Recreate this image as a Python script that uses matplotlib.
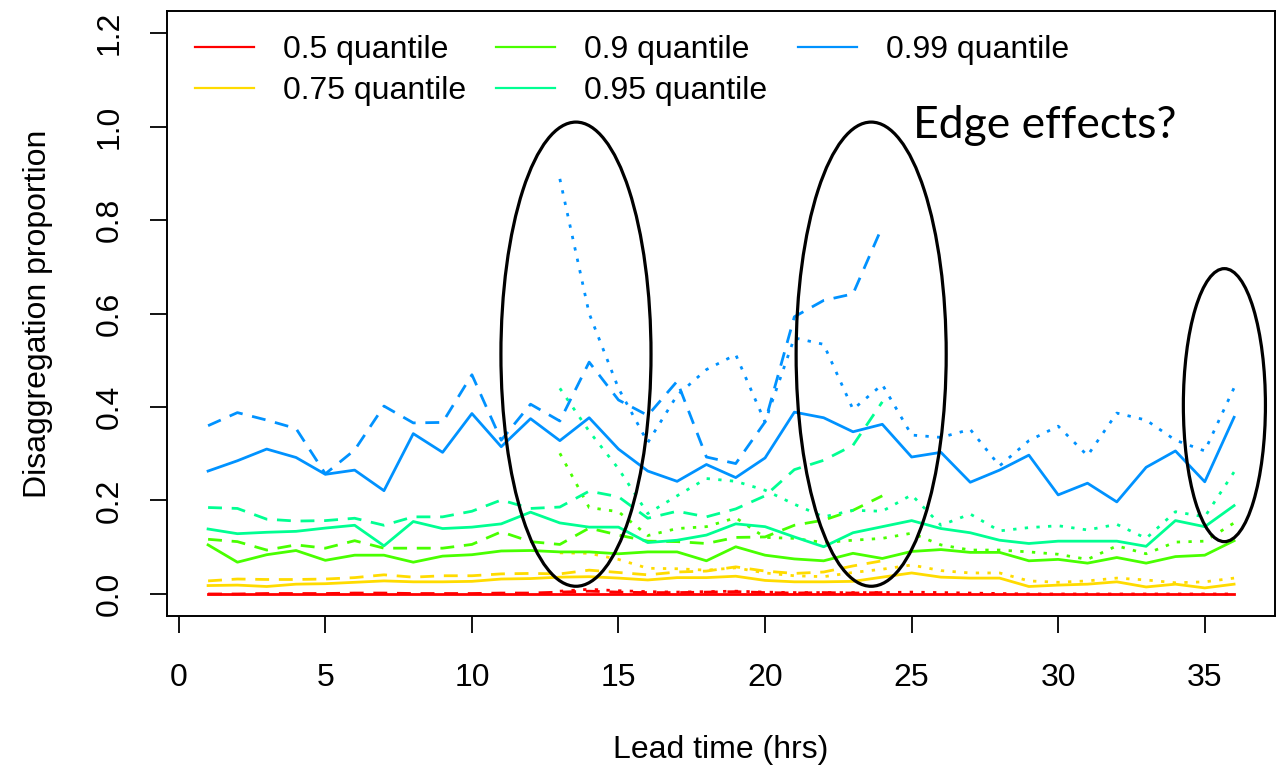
import matplotlib
matplotlib.use("Agg")
import matplotlib.pyplot as plt
import matplotlib.transforms as mtransforms
from matplotlib.patches import Ellipse

# ---------------- data ----------------
lead_full = [1, 2, 3, 4, 5, 6, 7, 8, 9, 10, 11, 12, 13, 14, 15, 16, 17, 18,
             19, 20, 21, 22, 23, 24, 25, 26, 27, 28, 29, 30, 31, 32, 33, 34, 35, 36]
lead_early = [1, 2, 3, 4, 5, 6, 7, 8, 9, 10, 11, 12, 13, 14, 15, 16, 17, 18,
              19, 20, 21, 22, 23, 24]
lead_late = [13, 14, 15, 16, 17, 18, 19, 20, 21, 22, 23, 24, 25, 26, 27, 28,
             29, 30, 31, 32, 33, 34, 35, 36]

quantile_labels = ["0.5 quantile", "0.75 quantile", "0.9 quantile",
                   "0.95 quantile", "0.99 quantile"]
quantile_colors = ["#FF0000", "#FFDB00", "#49FF00", "#00FF92", "#0092FF"]

# solid: full run (1-36)
q50_full = [0.000, 0.000, 0.000, 0.000, 0.000, 0.000, 0.000, 0.000, 0.000, 0.000, 0.000, 0.000,
            0.000, 0.000, 0.000, 0.000, 0.000, 0.000, 0.000, 0.000, 0.000, 0.000, 0.000, 0.000,
            0.000, 0.000, 0.000, 0.000, 0.000, 0.000, 0.000, 0.000, 0.000, 0.000, 0.000, 0.000]
q75_full = [0.018, 0.019, 0.016, 0.021, 0.022, 0.025, 0.028, 0.026, 0.026, 0.027, 0.032, 0.033,
            0.036, 0.037, 0.034, 0.030, 0.035, 0.035, 0.038, 0.029, 0.026, 0.026, 0.027, 0.036,
            0.045, 0.036, 0.034, 0.034, 0.016, 0.019, 0.021, 0.026, 0.015, 0.021, 0.013, 0.021]
q90_full = [0.105, 0.068, 0.084, 0.093, 0.072, 0.083, 0.083, 0.068, 0.081, 0.084, 0.092, 0.093,
            0.090, 0.090, 0.086, 0.090, 0.090, 0.071, 0.101, 0.083, 0.075, 0.071, 0.087, 0.076,
            0.091, 0.095, 0.089, 0.089, 0.071, 0.074, 0.066, 0.078, 0.066, 0.080, 0.083, 0.114]
q95_full = [0.139, 0.129, 0.132, 0.134, 0.141, 0.147, 0.103, 0.155, 0.140, 0.143, 0.150, 0.175,
            0.152, 0.143, 0.143, 0.110, 0.115, 0.126, 0.150, 0.144, 0.122, 0.101, 0.131, 0.144,
            0.157, 0.140, 0.131, 0.115, 0.108, 0.113, 0.113, 0.113, 0.102, 0.157, 0.144, 0.189]
q99_full = [0.263, 0.285, 0.310, 0.292, 0.256, 0.265, 0.221, 0.343, 0.303, 0.386, 0.315, 0.375,
            0.328, 0.377, 0.310, 0.263, 0.241, 0.277, 0.249, 0.291, 0.389, 0.377, 0.347, 0.363,
            0.293, 0.303, 0.239, 0.265, 0.297, 0.212, 0.237, 0.197, 0.271, 0.306, 0.240, 0.378]

# dashed: early run (1-24)
q50_early = [0.000, 0.000, 0.001, 0.001, 0.001, 0.002, 0.002, 0.001, 0.001, 0.001, 0.002, 0.002,
             0.004, 0.006, 0.004, 0.003, 0.003, 0.004, 0.005, 0.003, 0.002, 0.003, 0.002, 0.003]
q75_early = [0.028, 0.032, 0.031, 0.031, 0.032, 0.035, 0.041, 0.036, 0.039, 0.039, 0.043, 0.044,
             0.043, 0.051, 0.046, 0.041, 0.047, 0.049, 0.058, 0.049, 0.044, 0.047, 0.060, 0.071]
q90_early = [0.117, 0.112, 0.094, 0.105, 0.098, 0.114, 0.098, 0.098, 0.098, 0.106, 0.133, 0.112,
             0.106, 0.141, 0.126, 0.113, 0.112, 0.108, 0.121, 0.122, 0.147, 0.158, 0.179, 0.210]
q95_early = [0.185, 0.183, 0.160, 0.156, 0.157, 0.162, 0.147, 0.165, 0.165, 0.177, 0.201, 0.183,
             0.186, 0.220, 0.208, 0.162, 0.177, 0.165, 0.182, 0.210, 0.266, 0.286, 0.318, 0.411]
q99_early = [0.360, 0.388, 0.372, 0.354, 0.257, 0.308, 0.402, 0.366, 0.367, 0.469, 0.329, 0.406,
             0.370, 0.496, 0.415, 0.382, 0.455, 0.293, 0.279, 0.368, 0.593, 0.628, 0.642, 0.786]

# dotted: late run (13-36)
q50_late = [0.006, 0.010, 0.007, 0.005, 0.004, 0.005, 0.006, 0.004, 0.003, 0.003, 0.003, 0.003,
            0.004, 0.003, 0.002, 0.001, 0.000, 0.000, 0.000, 0.000, 0.000, 0.000, 0.000, 0.000]
q75_late = [0.088, 0.087, 0.074, 0.055, 0.054, 0.051, 0.056, 0.045, 0.039, 0.037, 0.046, 0.053,
            0.062, 0.050, 0.045, 0.045, 0.028, 0.025, 0.028, 0.034, 0.030, 0.024, 0.026, 0.034]
q90_late = [0.301, 0.185, 0.176, 0.125, 0.140, 0.144, 0.163, 0.121, 0.119, 0.110, 0.115, 0.119,
            0.130, 0.105, 0.094, 0.094, 0.090, 0.085, 0.074, 0.103, 0.086, 0.111, 0.113, 0.152]
q95_late = [0.440, 0.348, 0.268, 0.172, 0.210, 0.247, 0.241, 0.222, 0.192, 0.165, 0.179, 0.177,
            0.212, 0.147, 0.171, 0.135, 0.142, 0.146, 0.137, 0.149, 0.119, 0.176, 0.165, 0.261]
q99_late = [0.888, 0.600, 0.440, 0.324, 0.425, 0.480, 0.512, 0.368, 0.548, 0.534, 0.395, 0.448,
            0.340, 0.335, 0.352, 0.274, 0.328, 0.359, 0.296, 0.387, 0.372, 0.329, 0.306, 0.441]

x_ticks = [0, 5, 10, 15, 20, 25, 30, 35]
y_ticks = [0.0, 0.2, 0.4, 0.6, 0.8, 1.0, 1.2]
y_ticklabels = ["0.0", "0.2", "0.4", "0.6", "0.8", "1.0", "1.2"]

# ellipses (center x, center y, width, height) in data units
ellipse_cx = [13.55, 23.62, 35.67]
ellipse_cy = [0.513, 0.513, 0.404]
ellipse_w = [5.12, 5.12, 2.80]
ellipse_h = [0.993, 0.993, 0.584]

annotation = "Edge effects?"
x_label = "Lead time (hrs)"
y_label = "Disaggregation proportion"

# ---------------- plot ----------------
plt.rcParams["font.family"] = ["Liberation Sans", "DejaVu Sans"]
fs = 23
W, H = 1281, 779

fig = plt.figure(figsize=(W / 100, H / 100), dpi=100)
ax = fig.add_axes([0.1304, 0.2087, 0.8650, 0.7777])

lw = 2.0
dash_style = (0, (5, 3.5))
dot_style = (0, (1.2, 3.0))

full_series = [q50_full, q75_full, q90_full, q95_full, q99_full]
early_series = [q50_early, q75_early, q90_early, q95_early, q99_early]
late_series = [q50_late, q75_late, q90_late, q95_late, q99_late]

handles = []
for i in range(5):
    col = quantile_colors[i]
    h, = ax.plot(lead_full, full_series[i], color=col, lw=lw)
    ax.plot(lead_early, early_series[i], color=col, lw=lw, linestyle=dash_style)
    ax.plot(lead_late, late_series[i], color=col, lw=lw, linestyle=dot_style)
    handles.append(h)

for cx, cy, w, h in zip(ellipse_cx, ellipse_cy, ellipse_w, ellipse_h):
    ax.add_patch(Ellipse((cx, cy), w, h, fill=False, edgecolor="black", lw=2.3,
                         clip_on=False, zorder=5))

ax.set_xlim(-0.4, 37.4)
ax.set_ylim(-0.048, 1.248)
ax.set_xticks(x_ticks)
ax.set_yticks(y_ticks)
ax.set_yticklabels(y_ticklabels, rotation=90, va="center")
ax.tick_params(axis="both", labelsize=fs, length=12.5, width=1.3, direction="out")
ax.tick_params(axis="x", pad=21)
ax.tick_params(axis="y", pad=18)
for sp in ax.spines.values():
    sp.set_linewidth(1.4)

ax.set_xlabel(x_label, fontsize=fs, labelpad=30)
ax.set_ylabel(y_label, fontsize=fs, labelpad=30)

leg = ax.legend(handles, quantile_labels, ncol=3, loc="upper left",
                bbox_to_anchor=(0.0253, 0.960), frameon=False, fontsize=fs,
                handlelength=1.85, handletextpad=0.9, columnspacing=0.95,
                labelspacing=0.34, borderpad=0, borderaxespad=0)
for lh in leg.legend_handles:
    lh.set_linewidth(1.6)

# annotation placed in pixel coordinates measured from the top of the image
top_px = mtransforms.Affine2D().scale(1, -1).translate(0, H)
fig.text(913, 126, annotation, transform=top_px, fontsize=32,
         family=["Lato", "DejaVu Sans"], va="center", ha="left")

fig.savefig("out.png", dpi=100)
